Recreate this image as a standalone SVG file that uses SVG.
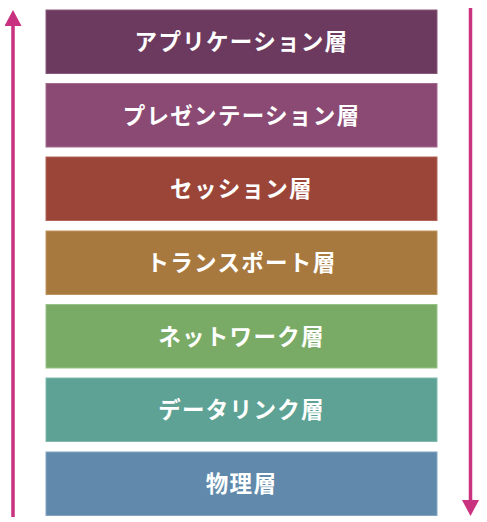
<svg xmlns="http://www.w3.org/2000/svg" width="487" height="522" viewBox="0 0 487 522">
<defs>
<style>
.bar{stroke-width:1}
.lbl{font-family:"Noto Sans CJK JP","Noto Sans",sans-serif;font-weight:700;font-size:22.5px;fill:#ffffff;text-anchor:middle;dominant-baseline:central;letter-spacing:1.3px}
.arr{stroke:#c9327f;stroke-width:3.5;fill:none}
</style>
<marker id="ah" viewBox="0 0 16 17" refX="0" refY="8.5" markerWidth="16" markerHeight="17" markerUnits="userSpaceOnUse" orient="auto">
<path d="M0,0 L16,8.5 L0,17 Z" fill="#c9327f"/>
</marker>
</defs>
<rect width="487" height="522" fill="#ffffff"/>
<g id="connectors">
<line class="arr" x1="13" y1="517" x2="13" y2="26" marker-end="url(#ah)"/>
<line class="arr" x1="470.5" y1="8" x2="470.5" y2="500" marker-end="url(#ah)"/>
</g>
<g id="application">
<rect class="bar" x="46" y="10" width="391" height="63.5" fill="#6d3a5f" stroke="#8a5a7c"/>
<text class="lbl" x="241.5" y="40">アプリケーション層</text>
</g>
<g id="presentation">
<rect class="bar" x="46" y="83.5" width="391" height="63.5" fill="#8b4a73" stroke="#a46a8e"/>
<text class="lbl" x="241.5" y="113.5">プレゼンテーション層</text>
</g>
<g id="session">
<rect class="bar" x="46" y="157" width="391" height="63.5" fill="#9b4539" stroke="#b46458"/>
<text class="lbl" x="241.5" y="187">セッション層</text>
</g>
<g id="transport">
<rect class="bar" x="46" y="231" width="391" height="63.5" fill="#a8793f" stroke="#bf9562"/>
<text class="lbl" x="241.5" y="261">トランスポート層</text>
</g>
<g id="network">
<rect class="bar" x="46" y="304.5" width="391" height="63.5" fill="#7aab66" stroke="#98c287"/>
<text class="lbl" x="241.5" y="334.5">ネットワーク層</text>
</g>
<g id="datalink">
<rect class="bar" x="46" y="378" width="391" height="63.5" fill="#5da294" stroke="#80baae"/>
<text class="lbl" x="241.5" y="408">データリンク層</text>
</g>
<g id="physical">
<rect class="bar" x="46" y="452" width="391" height="63.5" fill="#6089ab" stroke="#84a6c2"/>
<text class="lbl" x="241.5" y="482">物理層</text>
</g>
</svg>
